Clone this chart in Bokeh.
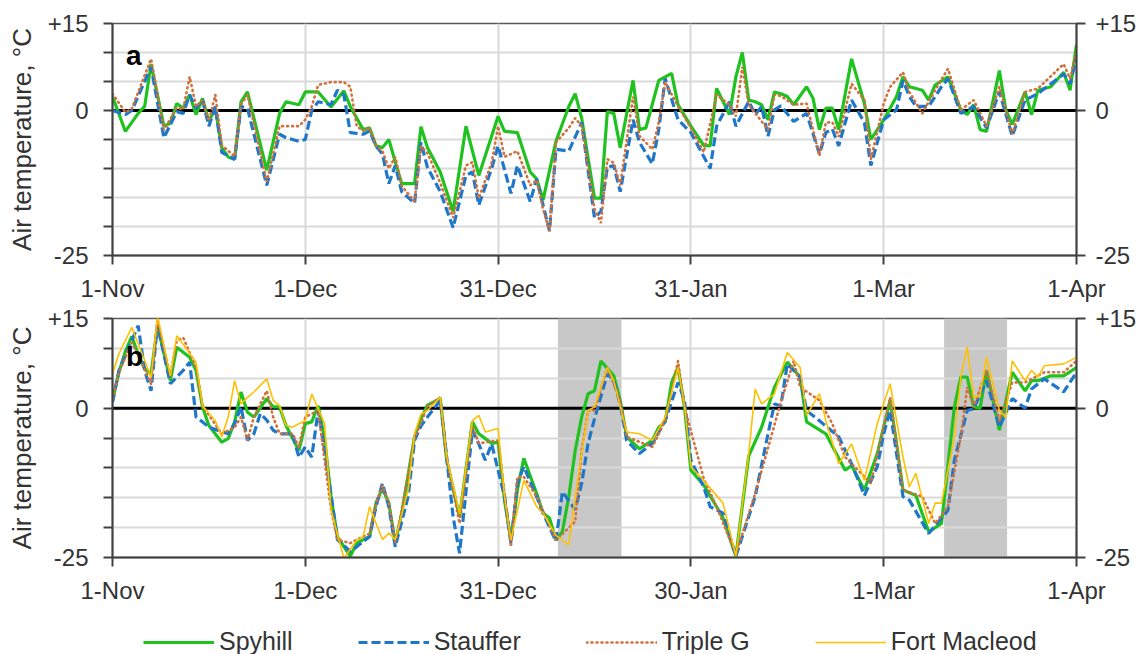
from bokeh.plotting import figure
from bokeh.models import (Range1d, LinearAxis, FixedTicker, BoxAnnotation, Span,
                          Legend, LegendItem, Label)
from bokeh.layouts import column
from bokeh.embed import file_html
from bokeh.resources import INLINE

# ---------------- data (day index from 1-Nov, air temperature in degC) ----------------
TICK_DAYS = [0, 30, 60, 90, 120, 150]
XLABELS_A = ["1-Nov", "1-Dec", "31-Dec", "31-Jan", "1-Mar", "1-Apr"]
XLABELS_B = ["1-Nov", "1-Dec", "31-Dec", "30-Jan", "1-Mar", "1-Apr"]
Y_GRID = [-25, -20, -15, -10, -5, 0, 5, 10, 15]
Y_LABELS = {15: "+15", 0: "0", -25: "-25"}
SERIES = ["Spyhill", "Stauffer", "Triple G", "Fort Macleod"]
SHADED_B = [(69.3, 79.2), (129.4, 139.2)]

# panel a
A_SPY_D = [0,2,4,5,6,8,9,10,11,12,13,14,15,16,17,18,19,20,21,24,26,27,29,30,32,34,36,37,39,40,
           41,42,43,44,45,47,48,49,51,53,55,57,60,61,63,65,66,67,69,71,72,73,75,76,77,78,79,81,82,83,
           85,87,88,90,92,93,94,96,97,98,99,100,101,102,103,104,105,106,108,109,110,111,112,113,115,117,118,120,122,123,
           124,126,127,128,130,132,133,134,135,136,138,139,140,142,143,144,146,148,149,150]
A_SPY_V = [2.4,-3.6,-0.5,0.7,8.0,-2.7,-2.2,1.2,0.4,2.7,-0.7,2.1,-1.9,0.4,-6.4,-8.0,-8.4,1.5,3.2,-10.3,-0.5,1.5,1.0,3.2,3.2,0.6,3.4,0.7,-3.3,-3.0,
           -6.1,-6.4,-5.0,-8.9,-12.6,-12.6,-2.8,-6.4,-10.6,-17.4,-2.7,-11.2,-1.0,-3.6,-3.8,-10.6,-11.8,-15.4,-5.3,0.7,2.9,-1.3,-15.1,-15.1,-0.2,-0.5,-6.4,5.2,-3.3,-3.0,
           5.2,6.4,1.0,-2.7,-6.0,-6.1,3.8,-0.7,5.8,10.0,1.8,1.5,1.0,-1.6,3.2,2.9,2.4,1.0,4.1,2.1,-3.3,0.4,0.4,-3.3,8.9,1.2,-5.0,-1.6,2.4,5.8,
           4.1,3.5,1.8,4.4,5.8,0.1,-0.7,1.0,-3.3,-3.6,6.9,0.1,-2.4,3.2,-0.7,3.5,4.1,6.6,3.5,11.4]

A_STA_D = [0,2,3,6,8,10,11,12,13,14,15,16,17,19,20,21,24,26,27,29,30,31,32,34,35,36,37,39,40,41,
           42,43,44,45,47,48,49,51,53,55,56,57,59,60,62,63,65,66,68,69,71,73,75,76,77,78,79,81,82,84,
           85,86,88,90,93,94,96,97,99,100,101,102,103,104,106,108,110,111,112,113,115,117,118,120,122,123,124,125,127,129,
           130,132,134,136,138,140,142,144,148,149,150]
A_STA_V = [0.0,-0.7,0.0,7.5,-4.7,-0.2,-0.5,2.7,0.4,1.8,-2.7,0.7,-7.2,-8.4,0.7,0.4,-12.9,-4.1,-4.7,-5.3,-5.0,0.0,1.5,1.0,3.5,2.7,-3.8,-4.1,-3.5,-6.1,
           -7.5,-12.6,-9.5,-14.0,-16.0,-5.5,-9.8,-14.0,-20.2,-11.2,-10.6,-16.3,-10.0,-6.1,-14.3,-9.5,-15.7,-11.8,-20.8,-6.7,-7.0,-2.1,-18.5,-17.4,-9.8,-9.5,-14.0,-1.6,-5.5,-9.2,
           -3.3,5.5,-1.6,-3.8,-10.0,-2.7,1.5,-2.7,1.6,-0.7,0.7,-4.4,0.1,0.8,-1.9,-0.5,-7.5,-3.8,-3.2,-6.1,1.8,-2.1,-9.5,-1.6,0.1,5.2,2.4,0.7,0.7,4.1,
           5.5,-0.5,0.7,-3.0,3.2,-4.4,1.8,2.9,6.3,4.6,9.2]

A_TRI_D = [0,2,3,6,8,10,11,12,13,14,15,16,17,19,20,21,24,26,27,29,30,31,32,34,36,37,38,39,40,41,
           42,43,44,45,47,48,49,51,53,55,56,57,59,60,61,63,65,66,67,68,69,71,72,73,75,76,77,78,79,81,
           82,84,85,86,88,90,92,94,96,97,98,99,102,103,104,106,108,110,111,112,113,115,117,118,120,121,123,124,126,128,
           130,132,134,136,138,140,142,144,148,149,150]
A_TRI_V = [2.9,-0.3,0.3,8.9,-3.4,0.5,0.2,5.8,0.7,1.8,-1.8,2.7,-6.0,-7.9,1.0,2.7,-12.3,-2.7,-2.7,-2.7,-1.6,0.7,4.4,4.9,4.9,4.1,-2.7,-3.5,-3.0,-6.0,
           -7.0,-10.0,-8.0,-13.0,-15.7,-6.2,-7.3,-12.5,-18.5,-9.5,-8.9,-15.1,-9.0,-2.7,-8.0,-7.0,-12.9,-12.0,-17.0,-20.8,-5.5,-3.0,-1.3,-2.7,-17.0,-19.4,-8.4,-9.0,-12.9,2.4,
           -4.4,-6.7,-2.0,4.9,0.7,-3.0,-7.2,2.7,1.0,-1.0,7.5,1.0,-3.3,2.7,2.5,1.0,1.2,-7.8,-2.1,-2.0,-4.5,4.6,1.8,-8.4,1.2,4.1,6.6,3.2,-0.5,3.5,
           7.2,0.1,1.8,-2.7,4.1,-4.1,3.2,3.8,8.0,5.5,10.3]

# panel b
B_SPY_D = [0,1,2,3,4,5,6,7,9,10,12,13,14,15,17,18,19,20,21,22,24,25,26,27,29,30,31,32,33,34,
           35,37,38,40,41,42,43,44,45,47,48,49,51,52,54,56,57,59,60,61,62,63,64,66,67,68,69,70,71,72,
           73,74,75,76,78,79,80,82,84,85,86,87,88,89,90,92,94,95,97,99,101,103,105,107,108,111,114,115,117,119,
           121,122,123,125,127,129,131,132,133,134,135,136,138,140,142,143,144,146,148,150]
B_SPY_V = [1.3,6.0,9.5,12.0,9.0,6.6,5.7,13.8,4.6,10.2,8.5,6.3,0.2,-2.9,-5.7,-5.1,-2.3,2.7,-0.7,-1.5,1.6,0.2,0.2,-2.9,-7.1,-2.6,-2.3,0.4,-5.1,-14.8,
           -21.5,-24.8,-22.6,-21.5,-15.9,-13.4,-15.9,-22.6,-17.6,-4.8,-1.8,0.5,1.6,-8.7,-18.2,-2.3,-4.3,-5.9,-5.7,-15.4,-22.1,-13.7,-8.4,-14.3,-17.6,-18.4,-22.1,-20.7,-14.8,-7.1,
           -1.5,2.4,2.9,7.9,5.4,1.3,-4.8,-6.8,-5.4,-3.2,-2.3,4.3,6.8,0.2,-10.4,-12.9,-16.5,-18.4,-24.8,-8.0,-3.2,3.5,7.7,5.2,-2.3,-4.3,-10.4,-9.6,-13.7,-7.6,
           1.3,-5.9,-13.7,-14.6,-20.7,-19.3,0.2,5.2,5.2,0.2,0.0,6.3,-3.7,6.0,2.9,4.6,4.6,5.4,5.4,6.8]

B_STA_D = [0,1,4,5,6,7,9,11,12,13,14,15,18,19,20,21,22,23,24,25,26,28,29,30,31,32,33,35,37,38,
           40,41,42,43,44,46,47,48,49,51,52,53,54,56,57,58,59,61,62,63,64,66,67,69,70,72,73,74,75,77,
           78,79,80,82,84,86,88,89,90,92,93,95,97,100,102,103,104,105,107,108,110,113,115,117,119,120,121,123,124,127,
           130,131,133,134,136,138,140,142,143,145,148,150]
B_STA_V = [1.0,6.3,13.8,6.3,2.9,14.0,4.1,6.3,7.7,-1.5,-2.3,-3.2,-4.3,-2.6,0.2,-5.4,-4.3,-0.9,-2.0,-3.7,-4.3,-4.3,-8.2,-6.5,-8.2,-0.4,-7.0,-22.0,-24.0,-23.2,
           -21.5,-16.5,-12.6,-16.5,-23.2,-14.8,-5.4,-3.0,-1.5,1.3,-8.2,-18.2,-24.3,-3.7,-6.0,-8.7,-6.0,-14.8,-22.6,-12.6,-9.8,-14.8,-17.6,-22.3,-14.0,-17.0,-12.6,-5.9,-1.8,5.7,
           4.6,0.7,-5.4,-7.6,-5.9,-2.1,4.3,1.3,-8.7,-13.2,-16.5,-17.6,-24.8,-14.8,-4.3,0.7,0.4,7.4,5.2,-0.4,-2.1,-4.8,-9.3,-14.6,-9.8,-4.3,-0.4,-14.8,-15.4,-21.0,
           -17.1,-8.7,-0.4,-0.1,4.6,-3.2,1.6,0.0,3.2,4.9,2.7,6.0]

B_TRI_D = [0,1,3,5,6,7,9,10,11,13,14,17,19,20,21,22,24,25,26,28,29,30,32,34,35,37,38,40,41,42,
           43,44,45,47,48,49,51,52,54,56,57,60,62,63,64,66,69,72,73,74,75,77,79,80,84,86,88,89,92,94,
           97,100,104,106,107,110,112,114,118,121,123,126,128,130,132,133,134,136,138,140,142,145,148,150]
B_TRI_V = [1.5,6.0,11.0,6.5,4.0,14.6,5.4,11.3,11.8,6.8,0.4,-4.3,-3.2,-1.5,-5.4,-1.5,2.9,-1.5,-4.3,-4.3,-6.5,-1.5,-0.4,-17.0,-22.0,-22.6,-22.0,-21.0,-16.0,-13.0,
           -16.0,-22.5,-17.0,-5.0,-2.5,0.3,1.8,-8.5,-19.3,-2.9,-5.9,-5.4,-23.2,-11.5,-11.5,-14.8,-22.1,-19.0,-7.1,-0.4,-0.4,6.8,1.3,-4.8,-6.5,-2.1,7.9,0.2,-11.8,-16.5,
           -24.5,-14.3,1.0,7.9,3.5,1.3,-2.6,-8.2,-12.6,1.8,-13.7,-14.8,-19.3,-16.5,-4.8,3.5,0.2,6.3,-2.1,4.3,4.3,6.0,6.0,7.9]

B_FM_D = [0,1,3,5,6,7,9,10,11,13,14,16,17,18,19,20,21,22,24,25,26,27,28,29,30,31,33,34,36,38,
          39,40,42,43,44,46,47,48,49,51,52,54,56,57,58,60,61,62,64,66,67,69,71,72,73,74,75,77,78,80,
          82,84,86,88,89,90,92,95,97,99,100,101,103,105,107,108,110,111,113,115,117,119,121,123,124,125,127,128,129,131,
          132,133,134,135,136,138,139,140,142,143,144,145,148,150]
B_FM_V = [5.7,9.1,13.5,8.0,5.1,15.5,5.4,12.1,10.7,7.7,0.4,-2.1,-4.8,-1.5,4.6,0.7,1.8,2.7,4.9,1.3,0.4,-2.9,-3.2,-2.6,-2.1,2.4,-2.6,-17.0,-25.1,-22.1,
          -21.5,-16.5,-22.0,-20.9,-22.0,-13.7,-4.3,-1.0,-0.4,1.8,-8.2,-17.7,-2.1,-1.2,-4.0,-3.4,-14.8,-22.1,-12.1,-16.5,-17.6,-21.3,-22.9,-14.8,-7.6,-0.4,0.2,6.8,4.6,-4.0,
          -4.3,-5.4,-1.5,6.8,0.4,-9.8,-12.1,-15.9,-24.8,-7.6,3.2,0.7,2.4,9.3,6.8,-1.2,2.4,-2.1,-9.3,-6.0,-12.1,-2.6,4.1,-8.2,-13.2,-10.9,-19.3,-15.9,-15.9,-4.8,
          5.2,10.2,1.8,2.1,8.5,-0.4,-1.5,7.9,4.6,6.3,5.2,7.1,7.4,8.5]

# ---------------- styling ----------------
FONT = "Liberation Sans"
TXT = "#333333"
GRID = "#d9d9d9"
AXIS = "#404040"
W = 1141
STYLE = {
    "Spyhill": dict(line_color="#1fc21f", line_width=3.2),
    "Stauffer": dict(line_color="#1f77c9", line_width=3.2, line_dash="9 4"),
    "Triple G": dict(line_color="#d2703c", line_width=2.6, line_dash="1 4", line_cap="round"),
    "Fort Macleod": dict(line_color="#ffc000", line_width=1.6),
}


def make_panel(height, top, bottom, xlabels, letter, letter_y):
    p = figure(width=W, height=height, x_range=Range1d(0, 150), y_range=Range1d(-25, 15),
               output_backend="svg", toolbar_location=None,
               min_border_left=112, min_border_right=65, min_border_top=top, min_border_bottom=bottom,
               background_fill_color="white", border_fill_color="white",
               outline_line_color="#595959", outline_line_width=1.5)
    # x axis
    p.xaxis.ticker = FixedTicker(ticks=TICK_DAYS)
    p.xaxis.major_label_overrides = dict(zip(TICK_DAYS, xlabels))
    p.xaxis.major_tick_out = 9
    p.xaxis.major_tick_in = 0
    p.xaxis.minor_tick_out = 0
    p.xaxis.major_label_standoff = 10
    # left y axis
    p.yaxis.ticker = FixedTicker(ticks=Y_GRID)
    p.yaxis.major_label_overrides = {v: Y_LABELS.get(v, "") for v in Y_GRID}
    p.yaxis.major_tick_out = 9
    p.yaxis.major_tick_in = 0
    p.yaxis.minor_tick_out = 0
    p.yaxis.major_label_standoff = 15
    p.yaxis.axis_label = "Air temperature, \u00b0C"
    p.yaxis.axis_label_standoff = 8
    p.yaxis.axis_label_text_font = FONT
    p.yaxis.axis_label_text_font_size = "26px"
    p.yaxis.axis_label_text_font_style = "normal"
    p.yaxis.axis_label_text_color = TXT
    # right y axis
    ry = LinearAxis(ticker=FixedTicker(ticks=[-25, 0, 15]),
                    major_label_overrides=dict(Y_LABELS),
                    major_tick_out=9, major_tick_in=0, minor_tick_out=0,
                    major_label_standoff=10)
    p.add_layout(ry, "right")
    for ax in p.axis:
        ax.axis_line_color = AXIS
        ax.axis_line_width = 2
        ax.major_tick_line_color = AXIS
        ax.major_tick_line_width = 2
        ax.major_label_text_font = FONT
        ax.major_label_text_font_size = "24px"
        ax.major_label_text_color = TXT
    # grids
    p.xgrid.ticker = FixedTicker(ticks=TICK_DAYS)
    p.ygrid.ticker = FixedTicker(ticks=Y_GRID)
    p.grid.grid_line_color = GRID
    p.grid.grid_line_width = 2
    p.add_layout(Span(location=0, dimension="width", line_color="black", line_width=3, level="underlay"))
    p.add_layout(Label(x=2.1, y=letter_y, text=letter, text_font=FONT, text_font_size="28px",
                       text_font_style="bold", text_color="black", text_baseline="alphabetic"))
    return p


# panel a: frame y 23..258 ; panel b: frame y 318..560
pa = make_panel(23 + 235 + 46, 23, 46, XLABELS_A, "a", 9.4)
pb = make_panel(14 + 242 + 46, 14, 46, XLABELS_B, "b", 8.7)

for left, right in SHADED_B:
    pb.add_layout(BoxAnnotation(left=left, right=right, fill_color="#c8c8c8", fill_alpha=1.0,
                                line_color=None, level="image"))

pa.line(A_SPY_D, A_SPY_V, **STYLE["Spyhill"])
pa.line(A_STA_D, A_STA_V, **STYLE["Stauffer"])
pa.line(A_TRI_D, A_TRI_V, **STYLE["Triple G"])

B_DATA = [("Spyhill", B_SPY_D, B_SPY_V), ("Stauffer", B_STA_D, B_STA_V),
          ("Triple G", B_TRI_D, B_TRI_V), ("Fort Macleod", B_FM_D, B_FM_V)]
for name, d, v in B_DATA:
    pb.line(d, v, **STYLE[name])

# legend strip below the panels (its own frame shows no data: y range far above the temperatures)
pl = figure(width=W, height=654 - 304 - 302, x_range=Range1d(0, 150), y_range=Range1d(100, 101),
            output_backend="svg", toolbar_location=None, min_border=0,
            x_axis_type=None, y_axis_type=None, outline_line_color=None,
            background_fill_color="white", border_fill_color="white")
pl.grid.visible = False
items = []
for name, d, v in B_DATA:
    r = pl.line(d, v, **STYLE[name])
    items.append(LegendItem(label=name, renderers=[r]))
legend = Legend(items=items, orientation="horizontal", location=(31, -2),
                glyph_width=71, glyph_height=20, label_standoff=5, spacing=65,
                padding=0, margin=0, border_line_color=None, background_fill_alpha=0,
                label_text_font=FONT, label_text_font_size="25px", label_text_color=TXT)
pl.add_layout(legend)

layout = column(pa, pb, pl, spacing=0)
open("out.html", "w").write(file_html(layout, INLINE))
